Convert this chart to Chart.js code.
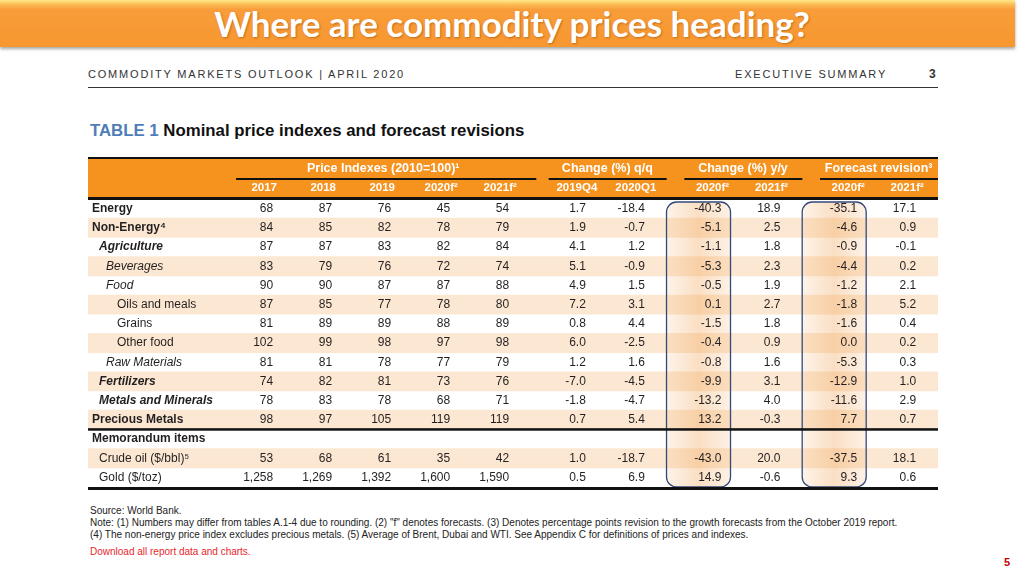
<!DOCTYPE html>
<html>
<head>
<meta charset="utf-8">
<script src="https://cdn.jsdelivr.net/npm/chart.js@4.4.1/dist/chart.umd.min.js"></script>
<style>
  body { margin: 0; width: 1024px; height: 576px; background: #fff; position: relative; overflow: hidden;
         font-family: "Liberation Sans", Arial, sans-serif; color: #231f20; }
  #titlebar { position: absolute; left: 0; top: 0; width: 1015px; height: 47px;
              background: linear-gradient(to bottom, #fee98a 0, #fbc056 9%, #f89d3a 20%, #f7972f 100%);
              box-shadow: 0 2px 3px rgba(0,0,0,.35); }
  #title { position: absolute; left: 0; top: 0; width: 1024px; margin: 0; text-align: center;
           font: 700 35px Lato, sans-serif; color: #fff; line-height: 47px;
           text-shadow: 1px 1px 2px rgba(130,60,0,.45); }
  .hdr { position: absolute; top: 68px; font-size: 11px; letter-spacing: 1.8px; color: #333; }
  #rule { position: absolute; left: 88px; top: 87px; width: 850px; height: 0; border-top: 1.5px solid #333; }
  #tabtitle { position: absolute; left: 90px; top: 121px; font-size: 16.8px; font-weight: bold; color: #111; white-space: nowrap; }
  #tabtitle span { color: #4f7db8; }
  .note { position: absolute; left: 90px; font-size: 10px; color: #222; white-space: nowrap; }
  #pg { position: absolute; left: 1004px; top: 556px; font-size: 11px; font-weight: bold; color: #c00000; }
  #tbl { position: absolute; left: 80px; top: 150px; }
</style>
</head>
<body>
<div id="titlebar"></div>
<h1 id="title">Where are commodity prices heading?</h1>
<div class="hdr" style="left:88px">COMMODITY MARKETS OUTLOOK | APRIL 2020</div>
<div class="hdr" style="left:735px">EXECUTIVE SUMMARY</div>
<div class="hdr" style="left:929px;font-weight:bold;font-size:12px;top:67px">3</div>
<div id="rule"></div>
<div id="tabtitle"><span>TABLE 1</span> Nominal price indexes and forecast revisions</div>
<canvas id="tbl" width="870" height="345"></canvas>
<div class="note" style="top:505px">Source: World Bank.</div>
<div class="note" style="top:517px">Note: (1) Numbers may differ from tables A.1-4 due to rounding. (2) "f" denotes forecasts. (3) Denotes percentage points revision to the growth forecasts from the October 2019 report.</div>
<div class="note" style="top:529px">(4) The non-energy price index excludes precious metals. (5) Average of Brent, Dubai and WTI. See Appendix C for definitions of prices and indexes.</div>
<div class="note" style="top:546px;color:#e8262b">Download all report data and charts.</div>
<div id="pg">5</div>

<script>
// Table rows and columns
const rowLabels = ['Energy', 'Non-Energy⁴', 'Agriculture', 'Beverages', 'Food', 'Oils and meals', 'Grains',
  'Other food', 'Raw Materials', 'Fertilizers', 'Metals and Minerals', 'Precious Metals', 'Memorandum items',
  'Crude oil ($/bbl)⁵', 'Gold ($/toz)'];
const groupTitles = ['Price Indexes (2010=100)¹', 'Change (%) q/q', 'Change (%) y/y', 'Forecast revision³'];
const groupSizes = [5, 2, 2, 2];
const colHeaders = ['2017', '2018', '2019', '2020f²', '2021f²', '2019Q4', '2020Q1', '2020f²', '2021f²', '2020f²', '2021f²'];

const price2017 = [68, 84, 87, 83, 90, 87, 81, 102, 81, 74, 78, 98, null, 53, 1258];
const price2018 = [87, 85, 87, 79, 90, 85, 89, 99, 81, 82, 83, 97, null, 68, 1269];
const price2019 = [76, 82, 83, 76, 87, 77, 89, 98, 78, 81, 78, 105, null, 61, 1392];
const price2020f = [45, 78, 82, 72, 87, 78, 88, 97, 77, 73, 68, 119, null, 35, 1600];
const price2021f = [54, 79, 84, 74, 88, 80, 89, 98, 79, 76, 71, 119, null, 42, 1590];
const qq2019Q4 = [1.7, 1.9, 4.1, 5.1, 4.9, 7.2, 0.8, 6.0, 1.2, -7.0, -1.8, 0.7, null, 1.0, 0.5];
const qq2020Q1 = [-18.4, -0.7, 1.2, -0.9, 1.5, 3.1, 4.4, -2.5, 1.6, -4.5, -4.7, 5.4, null, -18.7, 6.9];
const yy2020f = [-40.3, -5.1, -1.1, -5.3, -0.5, 0.1, -1.5, -0.4, -0.8, -9.9, -13.2, 13.2, null, -43.0, 14.9];
const yy2021f = [18.9, 2.5, 1.8, 2.3, 1.9, 2.7, 1.8, 0.9, 1.6, 3.1, 4.0, -0.3, null, 20.0, -0.6];
const rev2020f = [-35.1, -4.6, -0.9, -4.4, -1.2, -1.8, -1.6, 0.0, -5.3, -12.9, -11.6, 7.7, null, -37.5, 9.3];
const rev2021f = [17.1, 0.9, -0.1, 0.2, 2.1, 5.2, 0.4, 0.2, 0.3, 1.0, 2.9, 0.7, null, 18.1, 0.6];

const columns = [price2017, price2018, price2019, price2020f, price2021f,
  qq2019Q4, qq2020Q1, yy2020f, yy2021f, rev2020f, rev2021f];
const highlightCols = [7, 9];

// label styling
const rowFont = ['bold', 'bold', 'italic bold', 'italic', 'italic', '', '', '', 'italic', 'italic bold',
  'italic bold', 'bold', 'bold', '', ''];
const rowIndent = [0, 0, 7, 14, 14, 25, 25, 25, 14, 7, 7, 0, 0, 7, 7];

const X_MIN = -3.14, X_MAX = 11.27;
const FONT = '"Liberation Sans", Arial, sans-serif';

// column position on x axis, with a small gap between groups
function colX(k) {
  let g = 0, n = 0;
  while (k >= n + groupSizes[g]) { n += groupSizes[g]; g++; }
  return k + 0.3 * g;
}
function fmt(k, v) {
  return k < 5 ? v.toLocaleString('en-US') : v.toFixed(1);
}

const tablePlugin = {
  id: 'tableText',
  afterDatasetsDraw(chart) {
    const { ctx, chartArea: a, scales: { x, y } } = chart;
    const step = y.getPixelForValue(1) - y.getPixelForValue(0);
    const unit = x.getPixelForValue(1) - x.getPixelForValue(0);
    ctx.save();

    // header band
    ctx.fillStyle = '#f6921e';
    ctx.fillRect(a.left, a.top - 41, a.right - a.left, 41);
    ctx.fillStyle = '#111';
    ctx.fillRect(a.left, a.top - 42, a.right - a.left, 2);

    ctx.fillStyle = '#fff';
    ctx.textBaseline = 'middle';
    let start = 0;
    groupSizes.forEach((size, g) => {
      const first = x.getPixelForValue(colX(start));
      const last = x.getPixelForValue(colX(start + size - 1));
      const l = first - 0.63 * unit, r = last + (g === 0 ? 0.46 : 0.37) * unit;
      ctx.fillStyle = '#111';
      ctx.fillRect(l, a.top - 21, r - l, 2);
      ctx.fillStyle = '#fff';
      ctx.font = 'bold 12.5px ' + FONT;
      ctx.textAlign = 'center';
      ctx.fillText(groupTitles[g], (first + last) / 2 - 8, a.top - 30);
      start += size;
    });
    ctx.font = 'bold 11.5px ' + FONT;
    colHeaders.forEach((h, k) => {
      ctx.fillText(h, x.getPixelForValue(colX(k)) - 9, a.top - 11);
    });

    // highlighted columns
    highlightCols.forEach(k => {
      const r = x.getPixelForValue(colX(k));
      const bx = r - 55, bw = 64, by = a.top + 3, bh = a.bottom - a.top - 3;
      const grad = ctx.createLinearGradient(bx, 0, bx + bw, 0);
      grad.addColorStop(0, 'rgba(240,160,80,0.12)');
      grad.addColorStop(0.5, 'rgba(240,160,80,0.34)');
      grad.addColorStop(1, 'rgba(240,160,80,0.14)');
      ctx.beginPath();
      ctx.roundRect(bx, by, bw, bh, 10);
      ctx.fillStyle = grad;
      ctx.fill();
      ctx.lineWidth = 1.3;
      ctx.strokeStyle = '#34497a';
      ctx.stroke();
    });

    // rule lines
    ctx.fillStyle = '#111';
    ctx.fillRect(a.left, a.top - 2, a.right - a.left, 3);
    const memo = rowLabels.indexOf('Memorandum items');
    ctx.fillRect(a.left, y.getPixelForValue(memo) - step / 2 - 1.2, a.right - a.left, 2.5);
    ctx.fillRect(a.left, a.bottom, a.right - a.left, 3);

    // cells
    ctx.fillStyle = '#231f20';
    rowLabels.forEach((lab, i) => {
      const cy = y.getPixelForValue(i);
      ctx.textAlign = 'left';
      ctx.font = (rowFont[i] ? rowFont[i] + ' ' : '') + '12px ' + FONT;
      ctx.fillText(lab, a.left + 4 + rowIndent[i], cy);
      ctx.font = '12px ' + FONT;
      ctx.textAlign = 'right';
      columns.forEach((col, k) => {
        if (col[i] === null) return;
        ctx.fillText(fmt(k, col[i]), x.getPixelForValue(colX(k)), cy);
      });
    });
    ctx.restore();
  }
};

new Chart(document.getElementById('tbl').getContext('2d'), {
  type: 'bar',
  data: {
    labels: rowLabels,
    datasets: [{
      label: 'stripes',
      data: rowLabels.map((_, i) => i % 2 === 1 ? [X_MIN, X_MAX] : null),
      backgroundColor: '#fce8d2',
      borderWidth: 0,
      categoryPercentage: 1,
      barPercentage: 1
    }]
  },
  options: {
    indexAxis: 'y',
    responsive: false,
    animation: false,
    devicePixelRatio: 1,
    layout: { padding: { left: 8, right: 12, top: 49, bottom: 8 } },
    plugins: { legend: { display: false }, tooltip: { enabled: false } },
    scales: {
      x: { type: 'linear', min: X_MIN, max: X_MAX, display: false },
      y: { type: 'category', display: false, offset: true }
    }
  },
  plugins: [tablePlugin]
});
</script>
</body>
</html>
